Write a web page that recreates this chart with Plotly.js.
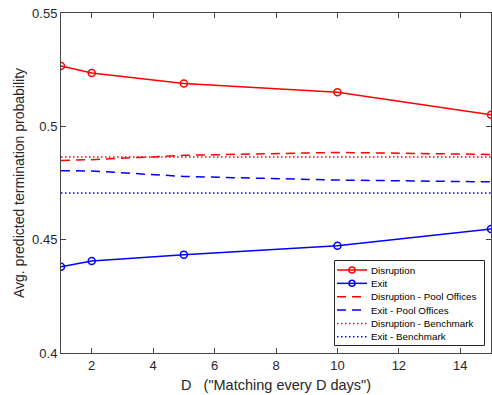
<!DOCTYPE html>
<html><head><meta charset="utf-8">
<script src="https://cdn.plot.ly/plotly-3.0.1.min.js"></script>
<style>html,body{margin:0;padding:0;background:#fff}#g{width:492px;height:395px}</style>
</head><body><div id="g"></div>
<script>
const D = [1, 2, 5, 10, 15];
const disruption = [0.5266, 0.5235, 0.5189, 0.5150, 0.5051];
const exitVals = [0.4381, 0.4406, 0.4434, 0.4473, 0.4547];
const disruptionPool = [0.4849, 0.4853, 0.4872, 0.4885, 0.4876];
const exitPool = [0.4804, 0.4803, 0.4779, 0.4763, 0.4755];
const disruptionBench = [0.4865, 0.4865, 0.4865, 0.4865, 0.4865];
const exitBench = [0.4706, 0.4706, 0.4706, 0.4706, 0.4706];
const names = ['Disruption', 'Exit', 'Disruption - Pool Offices', 'Exit - Pool Offices', 'Disruption - Benchmark', 'Exit - Benchmark'];
const xTicks = [2, 4, 6, 8, 10, 12, 14];
const yTicks = [0.4, 0.45, 0.5, 0.55];
const yTickText = ['0.4', '0.45', '0.5', '0.55'];

const red = '#ff0000', blue = '#0000ff';
const DASH = '9px,6px', DOT = '1.5px,2.5px';
const styles = [
  {color: red, dash: 'solid', marker: true},
  {color: blue, dash: 'solid', marker: true},
  {color: red, dash: DASH, marker: false},
  {color: blue, dash: DASH, marker: false},
  {color: red, dash: DOT, marker: false},
  {color: blue, dash: DOT, marker: false}
];
const series = [disruption, exitVals, disruptionPool, exitPool, disruptionBench, exitBench];

const traces = series.map((ys, i) => {
  const s = styles[i];
  const t = {x: D, y: ys, name: names[i], mode: s.marker ? 'lines+markers' : 'lines',
    line: {color: s.color, width: 1.5, dash: s.dash}, showlegend: false};
  if (s.marker) t.marker = {symbol: 'circle-open', size: 7, color: s.color, line: {width: 1.5, color: s.color}};
  return t;
});

// plot area in pixels (for placing the custom legend box)
const W = 492, H = 395, ML = 61, MR = 1, MT = 13, MB = 42;
const PW = W - ML - MR, PH = H - MT - MB;
const px = v => (v - ML) / PW;
const py = v => (H - MB - v) / PH;

const shapes = [];
const annotations = [];
// legend box
shapes.push({type: 'rect', xref: 'paper', yref: 'paper', x0: px(334.5), x1: px(484.5), y0: py(345.5), y1: py(260.5),
  line: {color: '#262626', width: 1}, fillcolor: '#fff', layer: 'above'});
const rowY0 = 270, rowStep = 13.35;
names.forEach((n, i) => {
  const yy = py(rowY0 + i * rowStep);
  const s = styles[i];
  shapes.push({type: 'line', xref: 'paper', yref: 'paper', x0: px(337), x1: px(367), y0: yy, y1: yy,
    line: {color: s.color, width: 1.5, dash: s.dash}, layer: 'above'});
  if (s.marker) {
    shapes.push({type: 'circle', xref: 'paper', yref: 'paper', xsizemode: 'pixel', ysizemode: 'pixel',
      xanchor: px(352), yanchor: yy, x0: -3, x1: 3, y0: -3, y1: 3,
      line: {color: s.color, width: 1.5}, fillcolor: 'rgba(0,0,0,0)', layer: 'above'});
  }
  annotations.push({xref: 'paper', yref: 'paper', x: px(369), y: yy, xanchor: 'left', yanchor: 'middle',
    text: n, showarrow: false, font: {size: 9.8, color: '#000'}});
});

const axisCommon = {showline: true, linecolor: '#444', linewidth: 1, mirror: 'ticks', ticks: 'inside',
  ticklen: 5, tickcolor: '#444', showgrid: false, zeroline: false,
  tickfont: {family: 'Liberation Sans, Arial, sans-serif', size: 13, color: '#262626'}};
const layout = {
  width: W, height: H,
  margin: {l: ML, r: MR, t: MT, b: MB},
  paper_bgcolor: '#fff', plot_bgcolor: '#fff',
  font: {family: 'Liberation Sans, Arial, sans-serif', color: '#262626'},
  xaxis: Object.assign({}, axisCommon, {range: [1, 15], tickvals: xTicks, ticktext: xTicks.map(String),
    title: {text: 'D   ("Matching every D days")', font: {size: 14.5, color: '#262626'}, standoff: 8}}),
  yaxis: Object.assign({}, axisCommon, {range: [0.4, 0.55], tickvals: yTicks, ticktext: yTickText,
    title: {text: 'Avg. predicted termination probability', font: {size: 14, color: '#262626'}, standoff: 4}}),
  showlegend: false,
  shapes: shapes,
  annotations: annotations
};
Plotly.newPlot('g', traces, layout, {displayModeBar: false, staticPlot: true});
</script></body></html>
